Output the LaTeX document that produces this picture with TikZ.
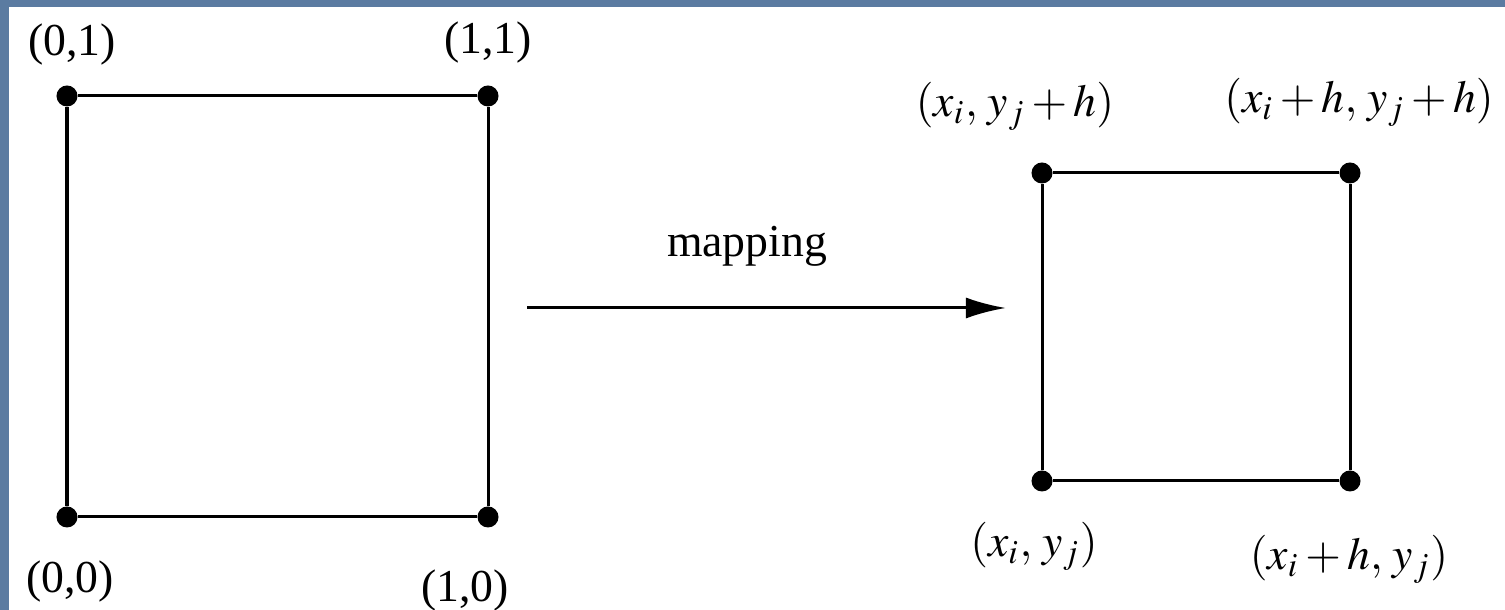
\documentclass[tikz,border=0pt]{standalone}
\usepackage{mathptmx}
\usepackage{fontspec}
\setmainfont{Liberation Serif}
\usetikzlibrary{arrows.meta, positioning}

\definecolor{slide}{HTML}{5B7BA1}

\begin{document}
\begin{tikzpicture}[
    x={(0.01cm,0)}, y={(0,-0.01cm)},
    >=Stealth,
    dot/.style={circle, fill=black, inner sep=0pt, minimum size=0.21cm},
    edge/.style={line width=0.03cm},
    lbl/.style={font=\fontsize{13}{15}\selectfont, inner sep=0pt},
    arr/.style={->, line width=0.03cm, >={Latex[length=0.4cm, width=0.21cm]}},
]

% ---- Slide background ----
\fill[slide] (0,0) rectangle (1505,610);
\fill[white] (9,7) rectangle (1505,610);
\useasboundingbox (0,0) rectangle (1505,610);

% ---- Unit square ----
\node[dot] (u00) at (67,517) {};
\node[dot] (u10) at (488,517) {};
\node[dot] (u11) at (488,96) {};
\node[dot] (u01) at (67,96) {};
\draw[edge] (u00) -- (u10) -- (u11) -- (u01) -- (u00);

\node[lbl] (l01) at (72,45) {(0,1)};
\node[lbl] (l11) at (488,43) {(1,1)};
\node[lbl] (l00) at (70,582) {(0,0)};
\node[lbl] (l10) at (465,591) {(1,0)};

% ---- Mapping arrow ----
\coordinate (mapfrom) at (527,308);
\coordinate (mapto) at (1006,308);
\draw[arr] (mapfrom) -- (mapto);
\node[lbl] (map) at (747,246) {mapping};

% ---- Mesh cell ----
\node[dot] (c00) at (1042,481) {};
\node[dot] (c10) at (1350,481) {};
\node[dot] (c11) at (1350,173) {};
\node[dot] (c01) at (1042,173) {};
\draw[edge] (c00) -- (c10) -- (c11) -- (c01) -- (c00);

\node[lbl] (k01) at (1015,106) {$(x_i,\, y_j + h)$};
\node[lbl] (k11) at (1359,102) {$(x_i + h,\, y_j + h)$};
\node[lbl] (k00) at (1034,546) {$(x_i,\, y_j)$};
\node[lbl] (k10) at (1349,559) {$(x_i + h,\, y_j)$};

\end{tikzpicture}
\end{document}
